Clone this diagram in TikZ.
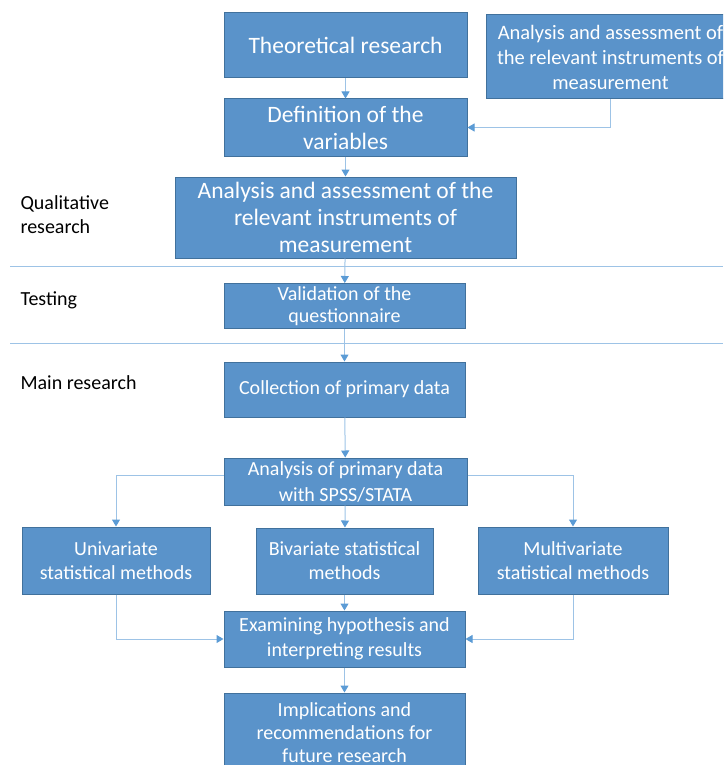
\documentclass[tikz,border=0pt]{standalone}
\usepackage{fontspec}
\setmainfont{Carlito}
\usetikzlibrary{arrows.meta}
\definecolor{boxfill}{HTML}{5A93CA}
\definecolor{boxline}{HTML}{41719C}
\definecolor{linkblue}{HTML}{9DC3E6}
\definecolor{tipblue}{HTML}{5B9BD5}
\begin{document}
\begin{tikzpicture}[x=1pt, y=-1pt,
  step box/.style={rectangle, draw=boxline, fill=boxfill, text=white, align=center, inner sep=1pt, line width=1pt},
  big text/.style={font=\fontsize{23.5}{27}\selectfont},
  small text/.style={font=\fontsize{20}{24}\selectfont},
  phase/.style={anchor=west, align=left, font=\fontsize{20}{24}\selectfont},
  link/.style={draw=linkblue, line width=1pt, -{Triangle[width=8pt,length=7pt,fill=tipblue,color=tipblue]}},
  divider/.style={draw=linkblue, line width=1pt}]%
\path[use as bounding box, clip] (0,0) rectangle (723,765);
\begin{scope}
\node[step box, big text, minimum width=243, minimum height=65] (theory) at (345.5,45.5) {Theoretical research};
\node[step box, font=\fontsize{20.5}{25}\selectfont, minimum width=249, minimum height=84] (instr) at (610.5,57) {Analysis and assessment of\\the relevant instruments of\\measurement};
\node[step box, big text, minimum width=243, minimum height=57] (defn) at (345.5,127.5) {Definition of the\\variables};
\node[step box, big text, minimum width=341, minimum height=81] (assess) at (345.5,217.5) {Analysis and assessment of the\\relevant instruments of\\measurement};
\node[step box, minimum width=241, minimum height=45, font=\fontsize{20}{22}\selectfont] (valid) at (344.5,306) {Validation of the\\questionnaire};
\node[step box, small text, minimum width=241, minimum height=55] (collect) at (344.5,389.5) {Collection of primary data};
\node[step box, minimum width=243, minimum height=47, font=\fontsize{20}{26}\selectfont] (spss) at (345.5,481.5) {Analysis of primary data\\with SPSS/STATA};
\node[step box, small text, minimum width=188, minimum height=67] (univ) at (116,560.5) {Univariate\\statistical methods};
\node[step box, small text, minimum width=177, minimum height=66] (biv) at (344.5,561) {Bivariate statistical\\methods};
\node[step box, small text, minimum width=190, minimum height=67] (multi) at (573,560.5) {Multivariate\\statistical methods};
\node[step box, minimum width=241, minimum height=56, font=\fontsize{20}{25}\selectfont] (exam) at (344.5,639) {Examining hypothesis and\\interpreting results};
\node[step box, minimum width=241, minimum height=80, font=\fontsize{20}{23}\selectfont] (impl) at (344.5,733) {Implications and\\recommendations for\\future research};
\end{scope}
% phases
\node[phase] (qual) at (17,215) {Qualitative\\research};
\node[phase] (test) at (17,300) {Testing};
\node[phase] (main) at (17,383) {Main research};
\coordinate (d1l) at (10,266);
\coordinate (d1r) at (723,266);
\coordinate (d2l) at (10,343);
\coordinate (d2r) at (723,343);
\draw[divider] (d1l) -- (d1r);
\draw[divider] (d2l) -- (d2r);
\begin{scope}
\draw[link] (theory) -- (defn);
\draw[link] (instr.south) |- (defn.east);
\draw[link] (defn) -- (assess);
\draw[link] (assess) -- (valid);
\draw[link] (valid) -- (collect);
\draw[link] (collect) -- (spss);
\draw[link] (spss) -- (biv);
\draw[link] ([yshift=6pt]spss.west) -| (univ.north);
\draw[link] ([yshift=6pt]spss.east) -| (multi.north);
\draw[link] (biv) -- (exam);
\draw[link] (univ.south) |- (exam.west);
\draw[link] (multi.south) |- (exam.east);
\draw[link] (exam) -- (impl);
\end{scope}
\end{tikzpicture}
\end{document}
